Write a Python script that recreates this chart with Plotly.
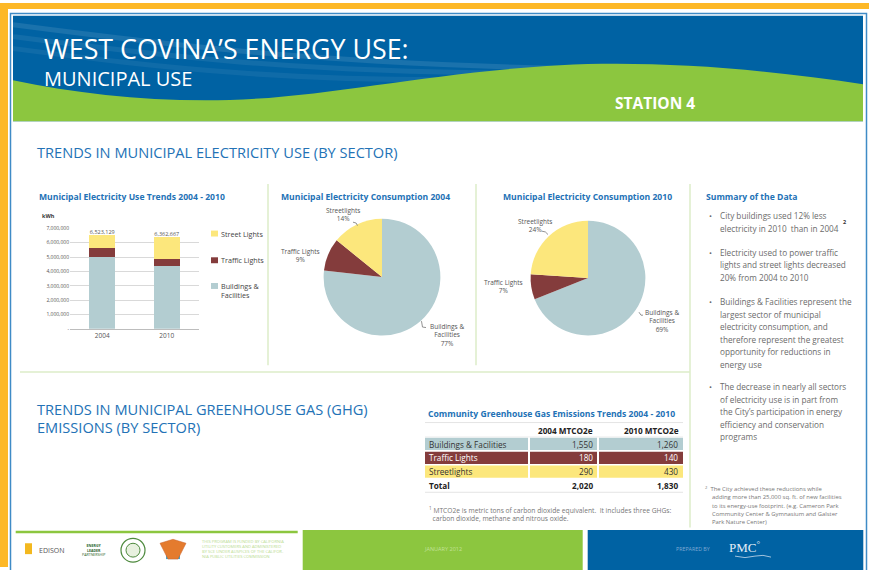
import plotly.graph_objects as go

# ---------------- data ----------------
years = ["2004", "2010"]
sector_names = ["Buildings & Facilities", "Traffic Lights", "Street Lights"]
legend_labels = ["Street Lights", "Traffic Lights", "Buildings &<br>Facilities"]
pie_labels = ["Buildings &<br>Facilities", "Traffic Lights", "Streetlights"]
buildings_kwh = [5010000, 4390000]
traffic_kwh = [590000, 450000]
street_kwh = [923129, 1522667]
ytick_vals = [0, 1000000, 2000000, 3000000, 4000000, 5000000, 6000000, 7000000]
ytick_text = ["-", "1,000,000", "2,000,000", "3,000,000", "4,000,000", "5,000,000", "6,000,000", "7,000,000"]

ghg_sectors = ["Buildings & Facilities", "Traffic Lights", "Streetlights"]
ghg_columns = ["2004 MTCO2e", "2010 MTCO2e"]
ghg_2004 = [1550, 180, 290]
ghg_2010 = [1260, 140, 430]

summary_bullets = [
    ["City buildings used 12% less", "electricity in 2010  than in 2004"],
    ["Electricity used to power traffic", "lights and street lights decreased", "20% from 2004 to 2010"],
    ["Buildings & Facilities represent the", "largest sector of municipal", "electricity consumption, and",
     "therefore represent the greatest", "opportunity for reductions in", "energy use"],
    ["The decrease in nearly all sectors", "of electricity use is in part from", "the City\u2019s participation in energy",
     "efficiency and conservation", "programs"],
]
footnote1 = ["<sup>1</sup> MTCO2e is metric tons of carbon dioxide equivalent.  It includes three GHGs:",
             "  carbon dioxide, methane and nitrous oxide."]
footnote2 = ["<sup>2</sup>  The City achieved these reductions while",
             "adding more than 25,000 sq. ft. of new facilities",
             "to its energy-use footprint. (e.g. Cameron Park",
             "Community Center & Gymnasium and Galster",
             "Park Nature Center)"]
footer_text = ["THIS PROGRAM IS FUNDED BY CALIFORNIA", "UTILITY CUSTOMERS AND ADMINISTERED",
               "BY SCE UNDER AUSPICES OF THE CALIFOR-", "NIA PUBLIC UTILITIES COMMISSION"]

# ---------------- styles ----------------
W, H = 869, 570
C_BUILD = "#B3CDD1"
C_TRAFFIC = "#843C3C"
C_STREET = "#FCE77C"
C_BLUE = "#0062A3"
C_GREEN = "#8CC63F"
C_ORANGE = "#FDB827"
C_HEAD = "#2372B6"
C_SEP = "#DCEDC8"
GRAY = "#6B6B6B"
F = "Open Sans"
colors = [C_BUILD, C_TRAFFIC, C_STREET]


def X(p):
    return p / W


def Y(p):
    return 1 - p / H


def path(pts):
    out = []
    for tok in pts.split():
        if "," in tok:
            a, b = tok.split(",")
            out.append(f"{X(float(a)):.5f},{Y(float(b)):.5f}")
        else:
            out.append(tok)
    return " ".join(out)


shapes = []
annotations = []


def rect(x0, y0, x1, y1, fill, line=None, lw=0):
    shapes.append(dict(type="rect", xref="paper", yref="paper", x0=X(x0), x1=X(x1), y0=Y(y1), y1=Y(y0),
                       fillcolor=fill, line=dict(color=line or fill, width=lw), layer="below"))


def line(x0, y0, x1, y1, color, w=1):
    shapes.append(dict(type="line", xref="paper", yref="paper", x0=X(x0), x1=X(x1), y0=Y(y0), y1=Y(y1),
                       line=dict(color=color, width=w), layer="above"))


def ann(x, y, text, size, color=GRAY, xa="left", ya="middle", family=F, align="left"):
    annotations.append(dict(x=X(x), y=Y(y), xref="paper", yref="paper", text=text, showarrow=False,
                            xanchor=xa, yanchor=ya, align=align, borderpad=0,
                            font=dict(size=size, color=color, family=family)))


# ---------------- frame / header ----------------
rect(0, 0, 8, H, C_ORANGE)
rect(0, 0, W, 6, C_ORANGE)
shapes.append(dict(type="rect", xref="paper", yref="paper", x0=X(10.5), x1=X(866.5), y0=Y(575), y1=Y(10.5),
                   line=dict(color="#3F8BC6", width=1.5), fillcolor="rgba(0,0,0,0)", layer="below"))
rect(13, 13, 863, 119.5, C_BLUE)
for dy, op in [(0, 0.10), (12, 0.07), (24, 0.06)]:
    shapes.append(dict(type="path", xref="paper", yref="paper",
                       path=path(f"M 13,{22+dy} C 150,{40+dy} 300,{60+dy} 560,{66+dy*0.4}"),
                       line=dict(color=f"rgba(255,255,255,{op})", width=5), layer="below"))
shapes.append(dict(type="path", xref="paper", yref="paper",
                   path=path("M 13,78 C 80,92 150,100 230,98 C 330,95 430,70 560,63 C 650,58 760,66 863,82 L 863,119.5 L 13,119.5 Z"),
                   fillcolor=C_GREEN, line=dict(width=0), layer="below"))
ann(43, 46, "WEST COVINA\u2019S ENERGY USE:", 26.8, "white")
ann(43, 76, "MUNICIPAL USE", 20, "white")
ann(614, 101, "<b>STATION 4</b>", 15.5, "white")

ann(36, 151, "TRENDS IN MUNICIPAL ELECTRICITY USE (BY SECTOR)", 14.6, C_HEAD)
ann(36, 410, "TRENDS IN MUNICIPAL GREENHOUSE GAS (GHG)", 14.6, C_HEAD)
ann(36, 429, "EMISSIONS (BY SECTOR)", 14.6, C_HEAD)

line(268, 183, 268, 366, C_SEP, 1.5)
line(476, 183, 476, 366, C_SEP, 1.5)
line(690, 183, 690, 530, C_SEP, 1.5)
line(20, 373, 690, 373, C_SEP, 1.5)

# ---------------- bar chart ----------------
series = [buildings_kwh, traffic_kwh, street_kwh]
traces = []
for name, vals, col in zip(sector_names, series, colors):
    traces.append(go.Bar(x=years, y=vals, name=name, marker=dict(color=col, line=dict(width=0)),
                         showlegend=False, xaxis="x", yaxis="y", hoverinfo="skip"))
totals = [a + b + c for a, b, c in zip(*series)]
traces.append(go.Scatter(x=years, y=totals, mode="text", text=[f"{t:,}" for t in totals],
                         textposition="top center", textfont=dict(size=5.5, color="#555", family=F),
                         showlegend=False, xaxis="x", yaxis="y", hoverinfo="skip"))

ann(38, 196, "<b>Municipal Electricity Use Trends 2004 - 2010</b>", 8.6, C_HEAD)
ann(41, 215, "<b>kWh</b>", 5.5, "#333")
leg_y = [233, 260, 291]
for lab, col, yy in zip(legend_labels, [C_STREET, C_TRAFFIC, C_BUILD], leg_y):
    top = yy - 3 if "<br>" not in lab else yy - 8
    rect(211, top, 218, top + 6, col)
    ann(220, yy, lab, 7.2, "#444")

# ---------------- pies ----------------
pie_specs = [
    (years[0], 323, 441, 218, 336, 365,
     [(446.7, 335.5), (300, 255.5), (342.7, 214)]),
    (years[1], 530, 646, 220, 336, 587,
     [(661.7, 321), (503.3, 287), (535, 225)]),
]
for i, (yr, x0, x1, y0, y1, tcx, lab_pos) in enumerate(pie_specs):
    vals = [s[i] for s in series]
    traces.append(go.Pie(labels=pie_labels, values=vals, sort=False, direction="clockwise", rotation=0,
                         marker=dict(colors=colors, line=dict(width=0)), textinfo="none",
                         domain=dict(x=[X(x0), X(x1)], y=[Y(y1), Y(y0)]), showlegend=False,
                         hoverinfo="skip"))
    ann(tcx, 196, f"<b>Municipal Electricity Consumption {yr}</b>", 8.6, C_HEAD, xa="center")
    tot = sum(vals)
    for lab, v, (lx, ly) in zip(pie_labels, vals, lab_pos):
        ann(lx, ly, f"{lab}<br>{round(100 * v / tot)}%", 6.5, "#555", xa="center", align="center")

for p in ["M 353,221.5 Q 357,221.5 357.5,225", "M 421.5,321.5 L 422.5,327.5 L 426,328",
          "M 541.5,230.5 Q 546,230.5 548,234", "M 639,312.5 L 641,315.5 L 643,315.5"]:
    shapes.append(dict(type="path", xref="paper", yref="paper", path=path(p),
                       line=dict(color="#777", width=0.8), layer="above"))

# ---------------- summary ----------------
ann(705, 196, "<b>Summary of the Data</b>", 8.6, C_HEAD)
bullet_top = [215, 252, 302, 388]
for top, lines in zip(bullet_top, summary_bullets):
    ann(708, top, "\u2022", 8, GRAY)
    for k, t in enumerate(lines):
        ann(719, top + k * 12.6, t, 8.2, GRAY)
ann(842, 221, "<b>2</b>", 5.5, "#333")

# ---------------- table (cells built from the data lists) ----------------
ann(551, 415, "<b>Community Greenhouse Gas Emissions Trends 2004 - 2010</b>", 8.6, C_HEAD, xa="center")
col_x = [(425, 528), (530, 597), (599, 683)]
row_fill = [C_BUILD, C_TRAFFIC, C_STREET]
row_font = ["#333", "white", "#333"]
TF = 8.2
for j, hdr in enumerate(ghg_columns):
    ann(col_x[j + 1][1] - 3, 432, f"<b>{hdr}</b>", TF, "#222", xa="right")
for r, (sec, v04, v10) in enumerate(zip(ghg_sectors, ghg_2004, ghg_2010)):
    y0 = 439.5 + r * 14
    for (cx0, cx1) in col_x:
        rect(cx0, y0, cx1, y0 + 12.3, row_fill[r])
    yc = y0 + 6.2
    ann(col_x[0][0] + 3, yc, sec, TF, row_font[r])
    ann(col_x[1][1] - 3, yc, f"{v04:,}", TF, row_font[r], xa="right")
    ann(col_x[2][1] - 4, yc, f"{v10:,}", TF, row_font[r], xa="right")
ann(col_x[0][0] + 3, 487.5, "<b>Total</b>", TF, "#222")
ann(col_x[1][1] - 3, 487.5, f"<b>{sum(ghg_2004):,}</b>", TF, "#222", xa="right")
ann(col_x[2][1] - 4, 487.5, f"<b>{sum(ghg_2010):,}</b>", TF, "#222", xa="right")
line(425, 424, 683, 424, "#DDDDDD", 0.8)
line(425, 438.5, 683, 438.5, "#E6E6E6", 0.6)
line(425, 494.5, 683, 494.5, "#DDDDDD", 0.8)

for k, t in enumerate(footnote1):
    ann(428, 512.5 + k * 8, t, 6.7, "#777")
for k, t in enumerate(footnote2):
    ann(704 if k == 0 else 711, 491.5 + k * 8.2, t, 5.9, "#777")

# ---------------- footer ----------------
rect(15.7, 533.3, 297.7, 535.8, C_GREEN)
rect(302.7, 532.7, 582.7, 575, C_GREEN)
rect(587.7, 532.7, 863.3, 575, C_BLUE)
rect(25, 546, 32, 557, "#F3B81F")
ann(38, 553.5, "EDISON", 7, "#555")
ann(93, 553, "<b>ENERGY<br>LEADER</b><br>PARTNERSHIP", 3.6, "#2C5F2D", xa="center", align="center")
shapes.append(dict(type="circle", xref="paper", yref="paper", x0=X(121), x1=X(145), y0=Y(565), y1=Y(541),
                   line=dict(color="#4E8A3E", width=1.2), fillcolor="white"))
shapes.append(dict(type="circle", xref="paper", yref="paper", x0=X(126), x1=X(140), y0=Y(560), y1=Y(546),
                   line=dict(color="#4E8A3E", width=1), fillcolor="#E8F1DF"))
shapes.append(dict(type="path", xref="paper", yref="paper", path=path("M 160,546 L 173,542 L 186,546 L 178,562 L 168,562 Z"),
                   fillcolor="#E47B2E", line=dict(color="#C8602A", width=0.5)))
rect(166, 556, 180, 562, "#3FA7D6")
for k, t in enumerate(footer_text):
    ann(201, 544 + k * 5, t, 4.1, "#B8DB8E")
ann(443, 552, "JANUARY 2012", 5.5, "#C2E29A", xa="center")
ann(675, 552, "PREPARED BY", 5.3, "#7FA9D3")
ann(728, 550, "PMC<sup>\u00b0</sup>", 13, "#E4EEF7", family="Liberation Serif")
shapes.append(dict(type="path", xref="paper", yref="paper", path=path("M 735,559 Q 745,562 755,559 Q 763,557 771,560"),
                   line=dict(color="#C9DCEE", width=0.8)))

fig = go.Figure(traces)
fig.update_layout(
    width=W, height=H, margin=dict(l=0, r=0, t=0, b=0), paper_bgcolor="white", plot_bgcolor="white",
    barmode="stack", bargap=0.6, showlegend=False,
    xaxis=dict(domain=[X(70), X(199)], showgrid=False, showline=True, linecolor="#BDBDBD", linewidth=1,
               tickfont=dict(size=6.5, color="#555", family=F), ticks="", fixedrange=True),
    yaxis=dict(domain=[Y(329.3), Y(227.7)], range=[0, 7000000], tickvals=ytick_vals, ticktext=ytick_text,
               showgrid=True, gridcolor="#D9D9D9", gridwidth=1, zeroline=False,
               tickfont=dict(size=5, color="#555", family=F), ticks="", fixedrange=True),
    shapes=shapes, annotations=annotations,
)
fig.write_html("out.html", config={"displayModeBar": False},
               post_script="document.body.style.margin='0px';document.body.style.overflow='hidden';")
